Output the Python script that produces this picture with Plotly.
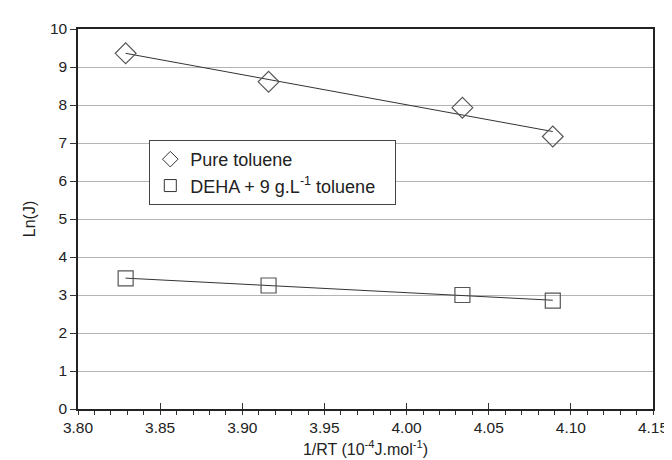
import numpy as np
import plotly.graph_objects as go

inv_rt = [3.829, 3.916, 4.034, 4.089]
pure_toluene = [9.36, 8.61, 7.93, 7.17]
deha_toluene = [3.44, 3.25, 3.00, 2.85]
series_names = ["Pure toluene", "DEHA + 9 g.L<sup>-1</sup> toluene\u00a0\u00a0\u00a0"]
x_ticks = [3.80, 3.85, 3.90, 3.95, 4.00, 4.05, 4.10, 4.15]

FONT = "Liberation Sans, Arial, sans-serif"
MC = "#555555"
symbols = ["diamond-open", "square-open"]
sizes = [16, 15]

fig = go.Figure()
x_line = np.array([min(inv_rt), max(inv_rt)])
for ys in (pure_toluene, deha_toluene):
    a, b = np.polyfit(inv_rt, ys, 1)
    fig.add_trace(go.Scatter(x=x_line, y=a * x_line + b, mode="lines",
                             line=dict(color="#333333", width=1), showlegend=False,
                             hoverinfo="skip"))

for ys, sym, sz in zip((pure_toluene, deha_toluene), symbols, sizes):
    fig.add_trace(go.Scatter(x=inv_rt, y=ys, mode="markers", showlegend=False,
                             marker=dict(symbol=sym, size=sz, color=MC,
                                         line=dict(width=1.2, color=MC))))

# legend entries (smaller symbols, as in the reference legend)
for name, sym in zip(series_names, symbols):
    fig.add_trace(go.Scatter(x=[None], y=[None], mode="markers", name=name,
                             marker=dict(symbol=sym, size=12, color="#333333",
                                         line=dict(width=1, color="#333333"))))

# invisible trace to enable overlay axis with inside major ticks
fig.add_trace(go.Scatter(x=[3.8], y=[0], xaxis="x2", mode="markers",
                         marker=dict(opacity=0), showlegend=False, hoverinfo="skip"))

fig.update_layout(
    width=672, height=460,
    margin=dict(l=70, r=15, t=20, b=57),
    paper_bgcolor="white", plot_bgcolor="white",
    font=dict(family=FONT, size=15.5, color="#222222"),
    showlegend=True,
    legend=dict(x=0.124, y=0.708, xanchor="left", yanchor="top",
                bgcolor="white", bordercolor="#444444", borderwidth=1,
                font=dict(size=18, family=FONT, color="#222222"),
                itemwidth=30, tracegroupgap=0),
    xaxis=dict(range=[3.80, 4.15], tickvals=x_ticks,
               ticktext=[f"{v:.2f}" for v in x_ticks], ticklabeloverflow="allow",
               ticks="outside", ticklen=4, tickcolor="#333333",
               minor=dict(dtick=0.01, ticks="outside", ticklen=4, tickcolor="#333333"),
               showgrid=False, zeroline=False,
               showline=True, linecolor="#222222", linewidth=1.5, mirror=True,
               title=dict(text="1/RT (10<sup>-4</sup>J.mol<sup>-1</sup>)", standoff=8,
                          font=dict(size=16))),
    xaxis2=dict(range=[3.80, 4.15], overlaying="x", tickvals=x_ticks,
                showticklabels=False, ticks="inside", ticklen=6, tickcolor="#333333",
                showgrid=False, zeroline=False, showline=False),
    yaxis=dict(range=[0, 10], dtick=1, ticks="outside", ticklen=6, tickcolor="#333333",
               showgrid=True, gridcolor="#b4b4b4", gridwidth=1.3, zeroline=False,
               showline=True, linecolor="#222222", linewidth=1.5, mirror=True,
               title=dict(text="Ln(J)", standoff=10, font=dict(size=16))),
)

fig.write_html("out.html")
